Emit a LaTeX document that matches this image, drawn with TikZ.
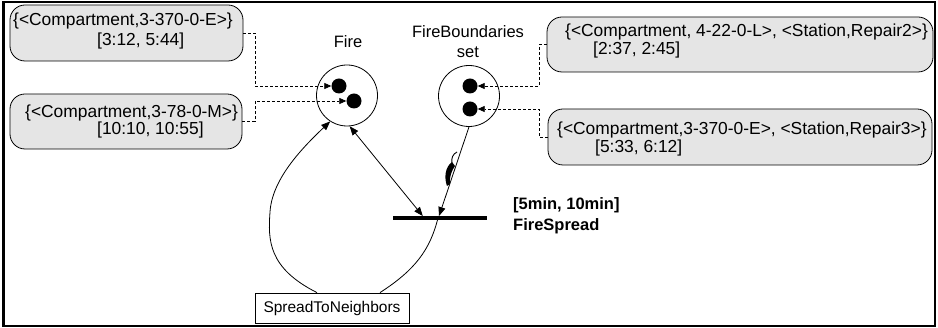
\documentclass[tikz,border=0pt]{standalone}
\usepackage{fontspec}
\setmainfont{Liberation Sans}
\usetikzlibrary{arrows.meta,calc}
\definecolor{tokenbox}{RGB}{229,229,229}
\begin{document}
\begin{tikzpicture}[x=1pt,y=-1pt,
  infobox/.style={draw=black, line width=0.8pt, fill=tokenbox, rounded corners=15pt, inner sep=0pt},
  infotext/.style={anchor=west, inner sep=0pt, font=\fontsize{17.4}{20}\selectfont},
  place/.style={circle, draw=black, line width=0.8pt, minimum size=61pt, inner sep=0pt},
  token/.style={circle, fill=black, minimum size=15pt, inner sep=0pt},
  lbl/.style={inner sep=0pt, font=\fontsize{16.5}{19}\selectfont},
  boldlbl/.style={anchor=west, inner sep=0pt, font=\fontsize{16.5}{19}\selectfont\bfseries},
  tokenlink/.style={line width=0.7pt, dash pattern=on 3pt off 2pt, -{Triangle[length=7pt,width=6pt]}},
  arc/.style={line width=0.8pt, -{Triangle[length=9pt,width=7pt]}},
  twoway/.style={line width=0.8pt, {Triangle[length=9pt,width=7pt]}-{Triangle[length=9pt,width=7pt]}},
]
\useasboundingbox (0,0) rectangle (938,328);
% outer frame
\draw[line width=2.4pt] (3.5,2) rectangle (935,326);

% places with their tokens
\node[place] (fire) at (347,95.5) {};
\node[token] (f1) at (339,86) {};
\node[token] (f2) at (354,101) {};
\node[lbl] (firelbl) at (348,42) {Fire};

\node[place] (fb) at (469,96) {};
\node[token] (g1) at (470,86) {};
\node[token] (g2) at (470,109) {};
\node[lbl] (fblbl1) at (468,32) {FireBoundaries};
\node[lbl] (fblbl2) at (468,52) {set};

% token annotation boxes
\node[infobox, minimum width=233pt, minimum height=56pt] (b1) at (126.5,33) {};
\node[infotext] (b1a) at (13,21) {\{<Compartment,3-370-0-E>\}};
\node[infotext] (b1b) at (97,41) {[3:12, 5:44]};

\node[infobox, minimum width=232pt, minimum height=55pt] (b2) at (126,121.5) {};
\node[infotext] (b2a) at (25,113) {\{<Compartment,3-78-0-M>\}};
\node[infotext] (b2b) at (97,130) {[10:10, 10:55]};

\node[infobox, minimum width=386pt, minimum height=55pt] (b3) at (740,44.5) {};
\node[infotext] (b3a) at (565,32) {\{<Compartment, 4-22-0-L>, <Station,Repair2>\}};
\node[infotext] (b3b) at (593,50) {[2:37, 2:45]};

\node[infobox, minimum width=384pt, minimum height=56pt] (b4) at (740,137) {};
\node[infotext] (b4a) at (557,130) {\{<Compartment,3-370-0-E>, <Station,Repair3>\}};
\node[infotext] (b4b) at (595,148) {[5:33, 6:12]};

% dashed links from boxes to tokens
\draw[tokenlink] (b1.east) -- (255,33) |- (f1);
\draw[tokenlink] (b2.east) -- (255,121.5) |- (f2);
\draw[tokenlink] (b3.west) -- (539,44.5) |- (g1);
\draw[tokenlink] (b4.west) -- (539,137) |- (g2);

% transition
\node[fill=black, minimum width=94pt, minimum height=3.5pt, inner sep=0pt] (t) at (440,218) {};
\node[boldlbl] (tl1) at (513,205) {[5min, 10min]};
\node[boldlbl] (tl2) at (513,226) {FireSpread};

% action box
\node[draw, line width=0.8pt, minimum width=154pt, minimum height=30pt, inner sep=0pt,
      font=\fontsize{15.5}{18}\selectfont] (s) at (332,308) {SpreadToNeighbors};

% arcs
\draw[twoway] (fire.275) -- ($(t.north west)+(30,0)$);
\draw[arc] (fb.south) -- ($(t.north)+(-1,0)$);
\draw[arc] ($(s.north)+(-15,0)$) .. controls (268,268) and (268,240) .. (270,212)
  .. controls (272,180) and (300,150) .. (fire.237);
\draw[line width=0.8pt] ($(t.center)+(-2,0)$) .. controls (430,250) and (415,270) .. ($(s.north)+(48,0)$);

% squiggle mark on the arc from FireBoundaries
\draw[line width=0.9pt] (457,152) .. controls (453,154) and (451,158) .. (452,163);
\fill (452,162) .. controls (445,167) and (444,178) .. (447,186)
  -- (450,184) .. controls (449,177) and (452,170) .. (455,166) -- cycle;
\end{tikzpicture}
\end{document}
